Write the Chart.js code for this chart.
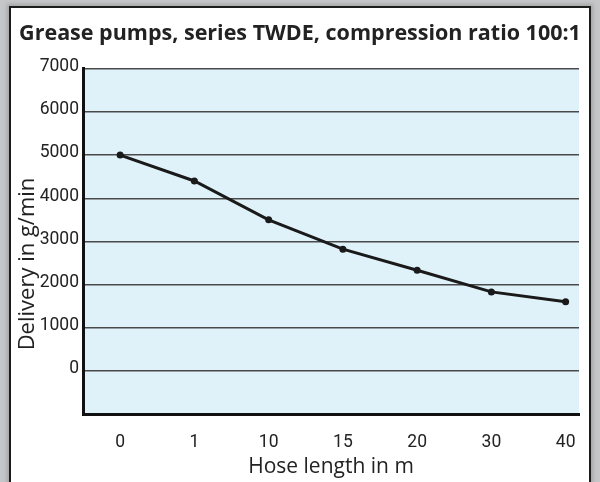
<!DOCTYPE html>
<html>
<head>
<meta charset="utf-8">
<script src="https://cdn.jsdelivr.net/npm/chart.js@4/dist/chart.umd.min.js"></script>
<style>
    html, body { margin: 0; padding: 0; }
    body { width: 600px; height: 482px; background: #c6c7c9; position: relative; overflow: hidden; }
    #panel { position: absolute; left: 9px; top: 6px; width: 578px; height: 520px; background: #fff; border: 2px solid #1c1c1c; box-shadow: 0 0 4px 2px #a4a5a7; }
    #wrap { position: absolute; left: 0; top: 0; width: 600px; height: 482px; }
</style>
</head>
<body>
<div id="panel"></div>
<div id="wrap"><canvas id="chart"></canvas></div>
<script>
const hoseLength = ["0", "1", "10", "15", "20", "30", "40"];
const delivery = [5000, 4400, 3500, 2820, 2330, 1830, 1600];
const yTicks = [0, 1000, 2000, 3000, 4000, 5000, 6000, 7000];

const ink = "#222";
const tickFont = { family: "Roboto", size: 17.5 };

// light blue fill behind the plot only
const plotBg = {
    id: "plotBg",
    beforeDraw(chart) {
        const { ctx, chartArea: a } = chart;
        ctx.save();
        ctx.fillStyle = "#dff2fa";
        ctx.fillRect(a.left, a.top, a.right - a.left, a.bottom - a.top);
        ctx.restore();
    }
};

// y title sits lower than the plot centre in the original
const yTitle = {
    id: "yTitle",
    afterDraw(chart) {
        const ctx = chart.ctx;
        ctx.save();
        ctx.translate(28, 264);
        ctx.rotate(-Math.PI / 2);
        ctx.font = "22px 'Open Sans'";
        ctx.fillStyle = ink;
        ctx.textAlign = "center";
        ctx.textBaseline = "middle";
        ctx.fillText("Delivery in g/min", 0, 0);
        ctx.restore();
    }
};

new Chart(document.getElementById("chart"), {
    type: "line",
    data: {
        datasets: [{
            data: delivery.map((v, i) => ({ x: i, y: v })),
            borderColor: "#1a1a1a",
            borderWidth: 3,
            pointRadius: 3.5,
            pointBackgroundColor: "#1a1a1a",
            pointBorderWidth: 0,
            tension: 0
        }]
    },
    options: {
        responsive: true,
        maintainAspectRatio: false,
        animation: false,
        layout: { padding: 0 },
        plugins: {
            legend: { display: false },
            tooltip: { enabled: false },
            title: {
                display: true,
                text: "Grease pumps, series TWDE, compression ratio 100:1",
                color: ink,
                font: { family: "'Open Sans'", size: 21.5, weight: "bold" },
                padding: { top: 21, bottom: 22 }
            }
        },
        scales: {
            x: {
                type: "linear",
                min: -0.5,
                max: 6.18,
                afterBuildTicks: s => { s.ticks = hoseLength.map((_, i) => ({ value: i })); },
                afterFit: s => { s.height = 68; },
                grid: { display: false, drawTicks: false },
                border: { display: true, color: "#111", width: 3 },
                ticks: {
                    callback: (v, i) => hoseLength[i],
                    font: tickFont,
                    color: ink,
                    padding: 18,
                    maxRotation: 0,
                    autoSkip: false
                },
                title: {
                    display: true,
                    text: "Hose length in m",
                    color: ink,
                    font: { family: "'Open Sans'", size: 21 },
                    padding: { top: 0, bottom: 2 }
                }
            },
            y: {
                min: -1000,
                max: 7000,
                afterBuildTicks: s => { s.ticks = yTicks.map(v => ({ value: v })); },
                afterFit: s => { s.width = 83; },
                grid: { color: "#4a4a4a", lineWidth: 1.5, drawTicks: false },
                border: { display: true, color: "#111", width: 3 },
                ticks: {
                    callback: v => String(v),
                    font: tickFont,
                    color: ink,
                    padding: 4,
                    labelOffset: -2
                }
            },
            // empty strip on the right so the title stays centred on the page
            yRight: {
                position: "right",
                display: true,
                grid: { display: false, drawTicks: false },
                border: { display: false },
                ticks: { display: false },
                afterFit: s => { s.width = 21; }
            }
        }
    },
    plugins: [plotBg, yTitle]
});
</script>
</body>
</html>
